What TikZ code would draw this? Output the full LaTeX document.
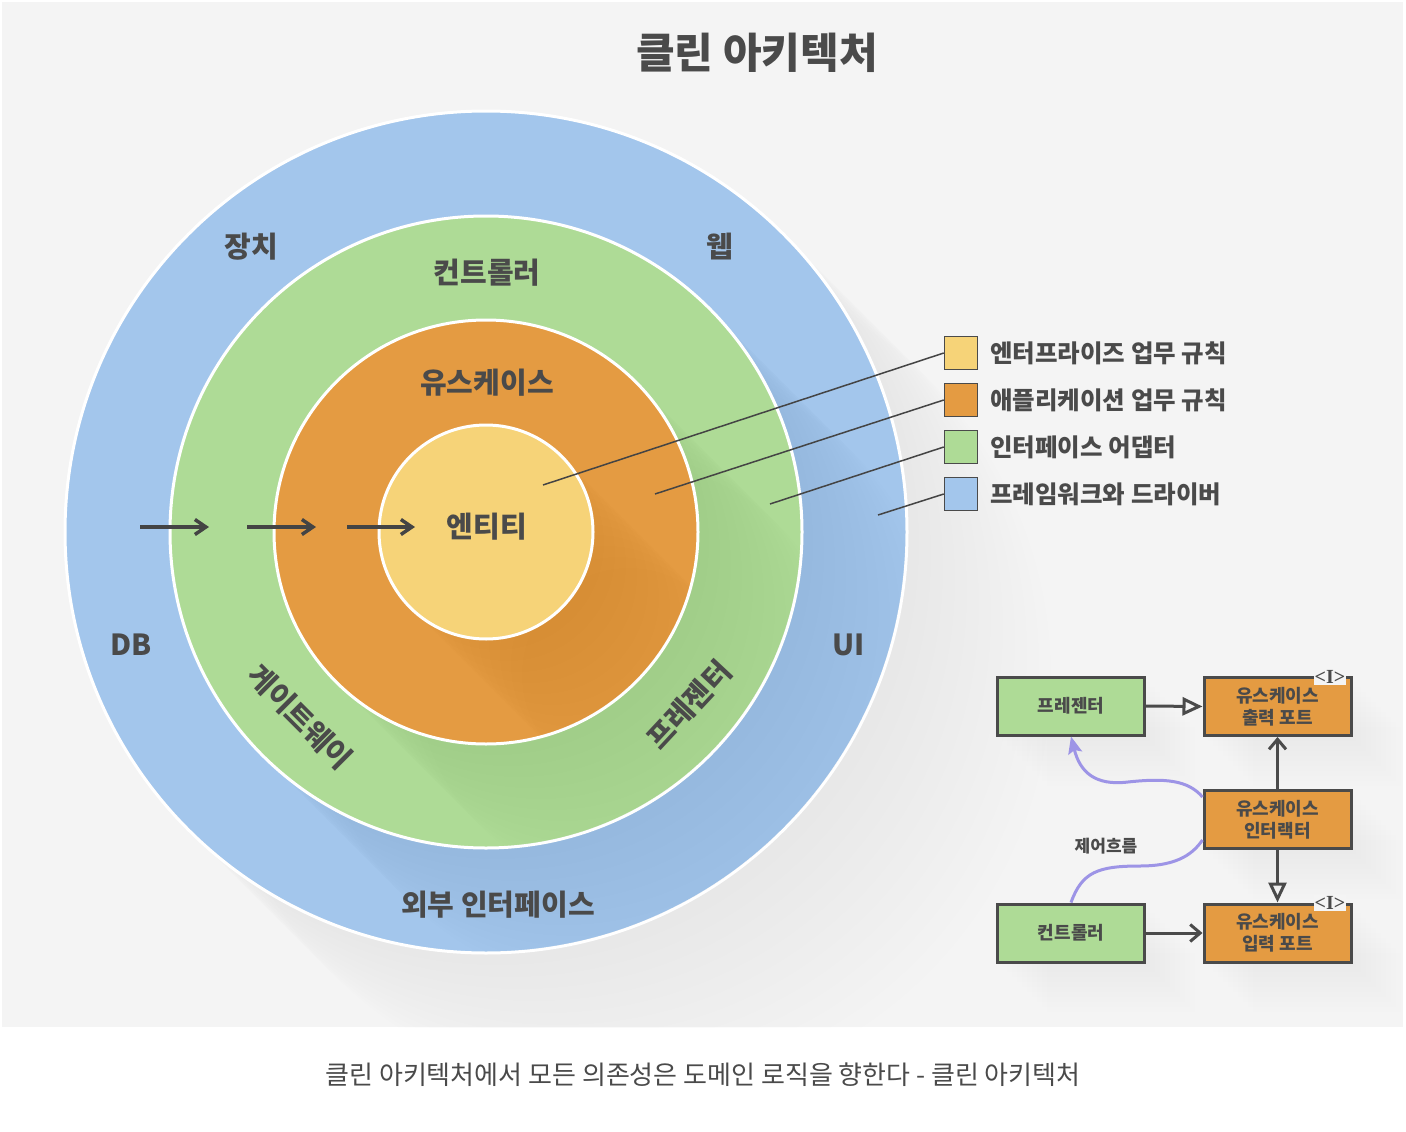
\documentclass[tikz,border=0pt]{standalone}
\usepackage{fontspec}
\setmainfont{Noto Sans CJK KR}
\newfontfamily\serifI{Liberation Serif}
\usetikzlibrary{arrows.meta,calc}
\definecolor{bgc}{HTML}{F4F4F4}
\definecolor{cblue}{HTML}{A3C6EC}
\definecolor{cgreen}{HTML}{AEDB96}
\definecolor{corange}{HTML}{E49B42}
\definecolor{cyellow}{HTML}{F6D378}
\definecolor{txt}{HTML}{4A4A4A}
\definecolor{lnc}{HTML}{444444}
\definecolor{purp}{HTML}{9D94E6}
\begin{document}
\begin{tikzpicture}[x=1pt,y=-1pt,
  ring/.style={circle, draw=white, line width=3pt, inner sep=0pt},
  lbl/.style={text=txt, font=\bfseries\fontsize{29}{32}\selectfont, inner sep=0pt},
  legsq/.style={draw=txt, line width=1.5pt, minimum size=33pt, inner sep=0pt},
  legtxt/.style={text=txt, font=\bfseries\fontsize{24.5}{27}\selectfont, anchor=west, inner sep=0pt},
  leader/.style={draw=lnc, line width=1.5pt},
  flow/.style={draw=lnc, line width=3.5pt, -{Straight Barb[length=11pt,width=15pt]}},
  gbox/.style={draw=txt, fill=cgreen, line width=3pt, minimum width=147pt, minimum height=58pt, inner sep=0pt,
     text=txt, font=\bfseries\fontsize{18}{22}\selectfont, align=center},
  obox/.style={gbox, fill=corange},
  ilbl/.style={fill=bgc, inner sep=1pt, text=txt, font=\serifI\bfseries\fontsize{20}{20}\selectfont},
  barb/.style={draw=txt, line width=3pt, -{Straight Barb[length=10pt,width=17pt]}},
  tri/.style={draw=txt, line width=3pt, -{Triangle[open,length=20pt,width=18pt]}},
  ctl/.style={draw=purp, line width=3pt}
]
\useasboundingbox (0,0) rectangle (1406,1132);
\fill[white] (0,0) rectangle (1406,1132);
\fill[bgc] (2,2) rectangle (1403,1027);

\coordinate (C) at (486,532);

% ---- long shadows and rings ----
\begin{scope}
  \clip (2,2) rectangle (1403,1027);
  \foreach \k in {1,...,12} \fill[black,opacity=0.004] ($(C)+(\k*12,\k*12)$) circle[radius=421pt];
\end{scope}
\node[ring, fill=cblue, minimum size=842pt] (rblue) at (C) {};

\begin{scope}
  \clip (C) circle[radius=420pt];
  \foreach \k in {1,...,13} \fill[black,opacity=0.004] ($(C)+(\k*11,\k*11)$) circle[radius=316pt];
\end{scope}
\node[ring, fill=cgreen, minimum size=632pt] (rgreen) at (C) {};

\begin{scope}
  \clip (C) circle[radius=315pt];
  \foreach \k in {1,...,13} \fill[black,opacity=0.004] ($(C)+(\k*11,\k*11)$) circle[radius=212pt];
\end{scope}
\node[ring, fill=corange, minimum size=424pt] (rorange) at (C) {};

\begin{scope}
  \clip (C) circle[radius=211pt];
  \foreach \k in {1,...,13} \fill[black,opacity=0.004] ($(C)+(\k*11,\k*11)$) circle[radius=107pt];
\end{scope}
\node[ring, fill=cyellow, minimum size=214pt] (ryellow) at (C) {};

% ---- title ----
\node[text=txt, font=\bfseries\fontsize{42}{48}\selectfont] (title) at (757,53) {클린 아키텍처};

% ---- ring labels ----
\node[lbl] (jangchi) at (251,247) {장치};
\node[lbl] (web) at (720,247) {웹};
\node[lbl] (ctrl) at (487,273) {컨트롤러};
\node[lbl] (uc) at (487,383) {유스케이스};
\node[lbl] (ent) at (487,527) {엔티티};
\node[lbl] (db) at (131,645) {DB};
\node[lbl] (ui) at (849,645) {UI};
\node[lbl] (ext) at (498,905) {외부 인터페이스};
\node[lbl, rotate=-45] (gw) at (300,717) {게이트웨이};
\node[lbl, rotate=47] (pr) at (689,705) {프레젠터};

% ---- dependency arrows ----
\coordinate (a1s) at (140,527); \coordinate (a1e) at (209,527);
\coordinate (a2s) at (247,527); \coordinate (a2e) at (316,527);
\coordinate (a3s) at (347,527); \coordinate (a3e) at (415,527);
\draw[flow] (a1s) -- (a1e);
\draw[flow] (a2s) -- (a2e);
\draw[flow] (a3s) -- (a3e);

% ---- legend ----
\node[legsq, fill=cyellow] (l1) at (961,353) {};
\node[legsq, fill=corange] (l2) at (961,400) {};
\node[legsq, fill=cgreen] (l3) at (961,447) {};
\node[legsq, fill=cblue] (l4) at (961,494) {};
\node[legtxt] (t1) at (990,353) {엔터프라이즈 업무 규칙};
\node[legtxt] (t2) at (990,400) {애플리케이션 업무 규칙};
\node[legtxt] (t3) at (990,447) {인터페이스 어댑터};
\node[legtxt] (t4) at (990,494) {프레임워크와 드라이버};
\coordinate (p1) at (543,485);
\coordinate (p2) at (655,494);
\coordinate (p3) at (770,504);
\coordinate (p4) at (878,515);
\draw[leader] (l1.west) -- (p1);
\draw[leader] (l2.west) -- (p2);
\draw[leader] (l3.west) -- (p3);
\draw[leader] (l4.west) -- (p4);

% ---- small diagram: shadows ----
\foreach \bx/\by in {997/677, 1203/677, 1203/790, 997/903, 1203/903}{
  \foreach \k in {1,...,10} \fill[black,opacity=0.004] (\bx+\k*5,\by+\k*5) rectangle (\bx+148+\k*5,\by+59+\k*5);
}

% ---- small diagram: boxes ----
\node[gbox] (pres) at (1071,706) {프레젠터};
\node[obox] (outp) at (1277.5,706.5) {유스케이스\\출력 포트};
\node[obox] (inter) at (1277.5,819.5) {유스케이스\\인터랙터};
\node[gbox] (cont) at (1071,933) {컨트롤러};
\node[obox] (inp) at (1277.5,933) {유스케이스\\입력 포트};
\node[ilbl] (i1) at (1330,677) {<I>};
\node[ilbl] (i2) at (1330,903) {<I>};

\draw[tri] (pres.east) -- (outp.west);
\draw[barb] (inter.north) -- (outp.south);
\draw[tri] (inter.south) -- (inp.north);
\draw[barb] (cont.east) -- (inp.west);

% ---- control flow ----
\coordinate (cf1) at ($(inter.south west)+(0,-10)$);
\coordinate (cf2) at ($(inter.north west)+(0,8)$);
\draw[ctl] (cont.north) .. controls (1082,872) and (1098,866) .. (1140,866)
   .. controls (1180,866) and (1194,852) .. (cf1);
\draw[ctl, -{Stealth[length=17pt,width=14pt,inset=3pt]}] (cf2) .. controls (1188,780) and (1165,778) .. (1128,782)
   .. controls (1095,786) and (1080,772) .. (pres.south);
\node[text=txt, font=\bfseries\fontsize{17}{20}\selectfont] (flowlbl) at (1106,846) {제어흐름};

% ---- caption ----
\node[text=txt, font=\fontsize{26}{30}\selectfont] (cap) at (703,1075) {클린 아키텍처에서 모든 의존성은 도메인 로직을 향한다 - 클린 아키텍처};
\end{tikzpicture}
\end{document}
